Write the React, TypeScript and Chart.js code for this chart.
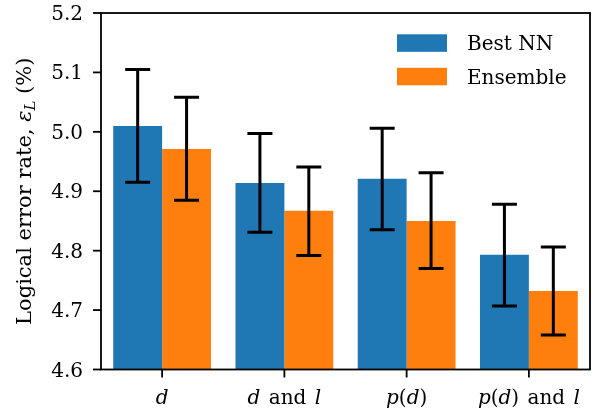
import React, { useEffect, useRef } from 'react';
import { Chart, registerables } from 'chart.js';
Chart.register(...registerables);

const categories = ['d', 'd and l', 'p(d)', 'p(d) and l'];
const seriesNames = ['Best NN', 'Ensemble'];
const bestNN = [5.010, 4.914, 4.921, 4.793];
const bestNNLow = [4.915, 4.831, 4.835, 4.707];
const bestNNHigh = [5.105, 4.997, 5.006, 4.878];
const ensemble = [4.971, 4.867, 4.850, 4.732];
const ensembleLow = [4.885, 4.792, 4.770, 4.658];
const ensembleHigh = [5.058, 4.941, 4.931, 4.806];
const yTicks = [4.6, 4.7, 4.8, 4.9, 5.0, 5.1, 5.2];
const colors = ['#1f77b4', '#ff7f0e'];
const errLow = [bestNNLow, ensembleLow];
const errHigh = [bestNNHigh, ensembleHigh];

const FONT = '"DejaVu Serif", serif';
const FS = 20;

type Seg = [string, boolean];
function parseLabel(label: string): Seg[] {
  const segs: Seg[] = [];
  const words = label.split(' ');
  words.forEach((w, wi) => {
    if (wi > 0) segs.push([' ', false]);
    if (w === 'and') { segs.push([w, false]); return; }
    for (const ch of w) segs.push([ch, /[a-zA-Z]/.test(ch)]);
  });
  return segs;
}

function drawSegs(ctx: CanvasRenderingContext2D, segs: Seg[], x: number, y: number, size: number, align: 'center' | 'left') {
  const widths = segs.map(([t, it]) => {
    ctx.font = `${it ? 'italic ' : ''}${size}px ${FONT}`;
    return ctx.measureText(t).width + (t === ' ' ? 2 : 0);
  });
  const total = widths.reduce((a, b) => a + b, 0);
  let cx = align === 'center' ? x - total / 2 : x;
  ctx.textAlign = 'left';
  segs.forEach(([t, it], i) => {
    ctx.font = `${it ? 'italic ' : ''}${size}px ${FONT}`;
    ctx.fillText(t, cx, y);
    cx += widths[i];
  });
}

const decorPlugin = {
  id: 'decor',
  afterDatasetsDraw(chart: any) {
    const ctx = chart.ctx as CanvasRenderingContext2D;
    const y = chart.scales.y;
    ctx.save();
    ctx.strokeStyle = '#000';
    ctx.lineWidth = 3;
    ctx.lineCap = 'butt';
    chart.data.datasets.forEach((ds: any, di: number) => {
      const meta = chart.getDatasetMeta(di);
      meta.data.forEach((bar: any, i: number) => {
        const x = bar.x;
        const y1 = y.getPixelForValue(errLow[di][i]);
        const y2 = y.getPixelForValue(errHigh[di][i]);
        ctx.beginPath();
        ctx.moveTo(x, y1);
        ctx.lineTo(x, y2);
        ctx.moveTo(x - 12.5, y1);
        ctx.lineTo(x + 12.5, y1);
        ctx.moveTo(x - 12.5, y2);
        ctx.lineTo(x + 12.5, y2);
        ctx.stroke();
      });
    });
    ctx.restore();
  },
  afterDraw(chart: any) {
    const ctx = chart.ctx as CanvasRenderingContext2D;
    const { left, right, top, bottom } = chart.chartArea;
    const xs = chart.scales.x;
    const ys = chart.scales.y;
    ctx.save();
    ctx.strokeStyle = '#000';
    ctx.fillStyle = '#000';
    ctx.lineWidth = 1.8;
    ctx.strokeRect(left, top, right - left, bottom - top);
    // y ticks
    ctx.textBaseline = 'alphabetic';
    yTicks.forEach((v) => {
      const py = ys.getPixelForValue(v);
      ctx.beginPath();
      ctx.moveTo(left - 8, py);
      ctx.lineTo(left, py);
      ctx.stroke();
      ctx.font = `${FS}px ${FONT}`;
      ctx.textAlign = 'right';
      ctx.fillText(v.toFixed(1), left - 18, py + 7);
    });
    // x ticks
    categories.forEach((c, i) => {
      const px = xs.getPixelForValue(i);
      ctx.beginPath();
      ctx.moveTo(px, bottom);
      ctx.lineTo(px, bottom + 8);
      ctx.stroke();
      drawSegs(ctx, parseLabel(c), px, 404, FS, 'center');
    });
    // y title
    ctx.save();
    ctx.translate(31, (top + bottom) / 2);
    ctx.rotate(-Math.PI / 2);
    const TS = 21;
    const parts: { t: string; it: boolean; size: number; dy: number }[] = [
      { t: 'Logical error rate, ', it: false, size: TS, dy: 0 },
      { t: 'ε', it: true, size: TS, dy: 0 },
      { t: 'L', it: true, size: 15, dy: 4 },
      { t: ' (%)', it: false, size: TS, dy: 0 },
    ];
    const ws = parts.map((p) => {
      ctx.font = `${p.it ? 'italic ' : ''}${p.size}px ${FONT}`;
      return ctx.measureText(p.t).width;
    });
    const tw = ws.reduce((a, b) => a + b, 0);
    let cx = -tw / 2;
    ctx.textAlign = 'left';
    parts.forEach((p, i) => {
      ctx.font = `${p.it ? 'italic ' : ''}${p.size}px ${FONT}`;
      ctx.fillText(p.t, cx, p.dy);
      cx += ws[i];
    });
    ctx.restore();
    // legend
    seriesNames.forEach((n, i) => {
      const ly = 34.3 + i * 33.5;
      ctx.fillStyle = colors[i];
      ctx.fillRect(397, ly, 50, 17.5);
      ctx.fillStyle = '#000';
      ctx.font = `${FS}px ${FONT}`;
      ctx.textAlign = 'left';
      ctx.fillText(n, 467, ly + 16);
    });
    ctx.restore();
  },
};

export default function App() {
  const ref = useRef<HTMLCanvasElement>(null);
  useEffect(() => {
    if (!ref.current) return;
    const chart = new Chart(ref.current, {
      type: 'bar',
      data: {
        labels: categories,
        datasets: [
          { label: seriesNames[0], data: bestNN, backgroundColor: colors[0], borderWidth: 0 },
          { label: seriesNames[1], data: ensemble, backgroundColor: colors[1], borderWidth: 0 },
        ],
      },
      options: {
        responsive: false,
        animation: false,
        devicePixelRatio: 1,
        layout: { padding: { left: 101, top: 13, right: 15, bottom: 48.5 } },
        datasets: { bar: { categoryPercentage: 0.8, barPercentage: 1.0 } },
        scales: {
          x: { display: false, offset: true },
          y: { display: false, min: 4.6, max: 5.2 },
        },
        plugins: { legend: { display: false }, tooltip: { enabled: false } },
      },
      plugins: [decorPlugin],
    });
    return () => chart.destroy();
  }, []);
  return (
    <div style={{ position: 'absolute', left: 0, top: 0, width: 605, height: 418, background: '#fff' }}>
      <canvas ref={ref} width={605} height={418} />
    </div>
  );
}
